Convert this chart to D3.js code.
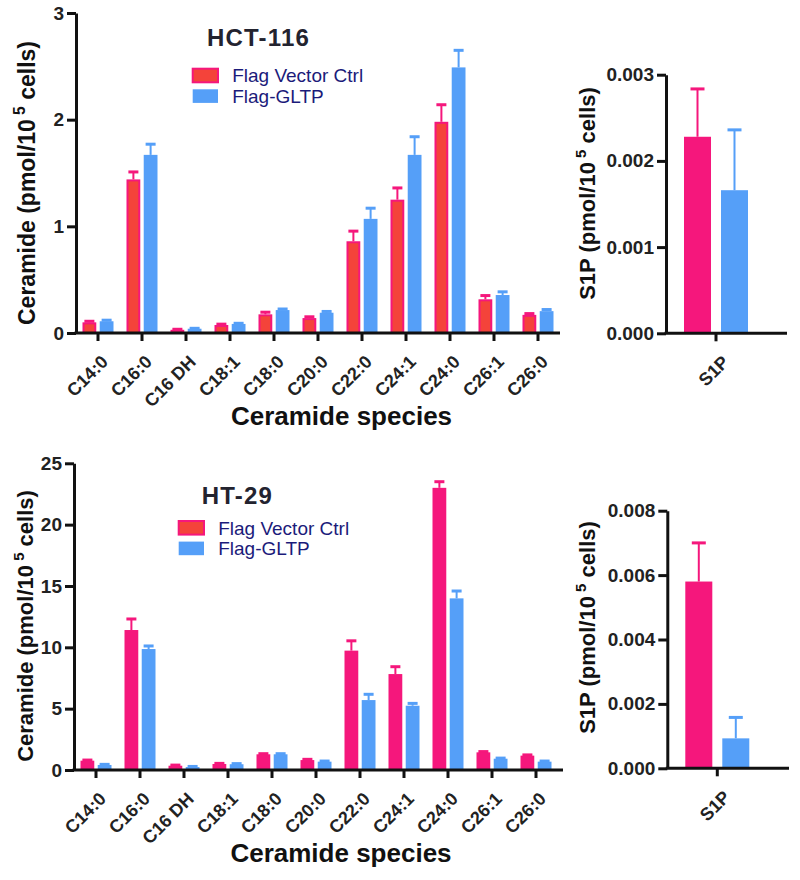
<!DOCTYPE html>
<html>
<head>
<meta charset="utf-8">
<script src="https://cdn.jsdelivr.net/npm/d3@7/dist/d3.min.js"></script>
<style>
  html, body { margin: 0; padding: 0; background: #fff; }
  svg { display: block; }
  text { font-family: "Liberation Sans", Arial, Helvetica, sans-serif; }
</style>
</head>
<body>
<svg id="chart" width="800" height="880"></svg>
<script>
// ---------------- DATA ----------------
const categories = ["C14:0", "C16:0", "C16 DH", "C18:1", "C18:0", "C20:0", "C22:0", "C24:1", "C24:0", "C26:1", "C26:0"];
const seriesNames = ["Flag Vector Ctrl", "Flag-GLTP"];

// HCT-116 ceramide (pmol/10^5 cells)
const hctCtrl    = [0.10, 1.44, 0.03, 0.075, 0.175, 0.14, 0.86, 1.25, 1.98, 0.316, 0.17];
const hctCtrlErr = [0.01, 0.07, 0.005, 0.008, 0.02, 0.012, 0.095, 0.11, 0.16, 0.035, 0.012];
const hctGltp    = [0.11, 1.67, 0.04, 0.085, 0.215, 0.19, 1.07, 1.67, 2.49, 0.356, 0.205];
const hctGltpErr = [0.01, 0.10, 0.004, 0.006, 0.01, 0.012, 0.10, 0.17, 0.16, 0.03, 0.015];

// HT-29 ceramide (pmol/10^5 cells)
const htCtrl    = [0.76, 11.41, 0.35, 0.49, 1.28, 0.81, 9.73, 7.82, 23.0, 1.44, 1.17];
const htCtrlErr = [0.05, 0.9, 0.05, 0.05, 0.05, 0.06, 0.8, 0.6, 0.5, 0.06, 0.06];
const htGltp    = [0.41, 9.86, 0.24, 0.47, 1.28, 0.68, 5.7, 5.24, 13.99, 0.92, 0.68];
const htGltpErr = [0.05, 0.25, 0.05, 0.05, 0.05, 0.05, 0.47, 0.19, 0.6, 0.05, 0.05];

// S1P (pmol/10^5 cells)
const s1pCategory = ["S1P"];
const hctS1P    = [0.00228, 0.00166];
const hctS1PErr = [0.000555, 0.0007];
const htS1P     = [0.0058, 0.00093];
const htS1PErr  = [0.0012, 0.00065];

// Tick values
const hctTicks    = [0, 1, 2, 3];
const htTicks     = [0, 5, 10, 15, 20, 25];
const hctS1PTicks = [0, 0.001, 0.002, 0.003];
const htS1PTicks  = [0, 0.002, 0.004, 0.006, 0.008];

// ---------------- STYLE ----------------
const MAGENTA = "#F5177C";
const RED = "#F4433A";
const BLUE = "#559FF8";
const AXIS = "#111";
const TICKTXT = "#222";
const LEGTXT = "#1b1b7a";

const svg = d3.select("#chart");

function yTitle(g, x, y, label, size) {
  const t = g.append("text")
    .attr("transform", `translate(${x},${y}) rotate(-90)`)
    .attr("text-anchor", "middle")
    .attr("font-weight", "bold")
    .attr("font-size", size)
    .attr("fill", "#111");
  t.append("tspan").text(label + " (pmol/10");
  t.append("tspan").attr("font-size", size * 0.68).attr("dy", -size * 0.42).text(" 5");
  t.append("tspan").attr("dy", size * 0.42).text(" cells)");
}

function drawPanel(cfg) {
  const g = svg.append("g");
  const x0 = d3.scaleBand().domain(cfg.cats).range(cfg.xRange).padding(0);
  const x1 = d3.scaleBand().domain(seriesNames).range([-cfg.half, cfg.half]).paddingInner(cfg.inner);
  const y = d3.scaleLinear().domain([0, cfg.yMax]).range(cfg.yRange);

  const rows = cfg.cats.map((c, i) => ({
    cat: c,
    vals: [
      { s: seriesNames[0], v: cfg.ctrl[i], e: cfg.ctrlErr[i] },
      { s: seriesNames[1], v: cfg.gltp[i], e: cfg.gltpErr[i] }
    ]
  }));

  const groups = g.selectAll("g.cat").data(rows).join("g")
    .attr("transform", d => `translate(${x0(d.cat) + x0.bandwidth() / 2},0)`);

  groups.selectAll("g.err").data(d => d.vals).join("g").each(function(d) {
    const el = d3.select(this);
    const cx = x1(d.s) + x1.bandwidth() / 2;
    const col = d.s === seriesNames[0] ? MAGENTA : BLUE;
    el.append("line").attr("x1", cx).attr("x2", cx)
      .attr("y1", y(d.v)).attr("y2", y(d.v + d.e))
      .attr("stroke", col).attr("stroke-width", 2);
    el.append("line").attr("x1", cx - cfg.cap / 2).attr("x2", cx + cfg.cap / 2)
      .attr("y1", y(d.v + d.e)).attr("y2", y(d.v + d.e))
      .attr("stroke", col).attr("stroke-width", 3);
  });

  const outl = d => d.s === seriesNames[0] && cfg.redOutline;
  groups.selectAll("rect.bar").data(d => d.vals).join("rect")
    .attr("class", "bar")
    .attr("x", d => x1(d.s) + (outl(d) ? 1 : 0))
    .attr("width", d => x1.bandwidth() - (outl(d) ? 2 : 0))
    .attr("y", d => y(d.v) + (outl(d) ? 1 : 0))
    .attr("height", d => Math.max(0, y(0) - y(d.v) - (outl(d) ? 1 : 0)))
    .attr("fill", d => d.s === seriesNames[0] ? (cfg.redOutline ? RED : MAGENTA) : BLUE)
    .attr("stroke", d => outl(d) ? MAGENTA : "none")
    .attr("stroke-width", 2);

  // y axis
  const yAx = g.append("g")
    .attr("transform", `translate(${cfg.xRange[0]},0)`)
    .call(d3.axisLeft(y).tickValues(cfg.ticks).tickFormat(cfg.fmt).tickSize(9).tickSizeOuter(0).tickPadding(3));
  yAx.select(".domain").attr("stroke", AXIS).attr("stroke-width", 3);
  yAx.selectAll(".tick line").attr("stroke", AXIS).attr("stroke-width", 3);
  yAx.selectAll(".tick text").attr("font-size", 19).attr("font-weight", "bold").attr("fill", TICKTXT)
    .attr("font-family", "'Liberation Sans', Arial, sans-serif");

  // x axis
  const xAx = g.append("g")
    .attr("transform", `translate(0,${cfg.yRange[0]})`)
    .call(d3.axisBottom(x0).tickSize(8).tickSizeOuter(0).tickFormat(""));
  xAx.select(".domain").remove();
  xAx.selectAll(".tick line").attr("stroke", AXIS).attr("stroke-width", 3);
  xAx.append("line").attr("x1", cfg.xRange[0] - 1.5).attr("x2", cfg.xEnd)
    .attr("y1", 0).attr("y2", 0).attr("stroke", AXIS).attr("stroke-width", 3);
  xAx.selectAll(".tick").append("text")
    .attr("transform", `translate(${cfg.lblDx},${cfg.lblDy}) rotate(-45)`)
    .attr("text-anchor", "end")
    .attr("font-size", 18).attr("font-weight", "bold").attr("fill", TICKTXT)
    .attr("font-family", "'Liberation Sans', Arial, sans-serif")
    .text(d => d);
  return g;
}

function legend(x, y, title, titleX, titleY) {
  const g = svg.append("g");
  g.append("text").attr("x", titleX).attr("y", titleY)
    .attr("font-size", 24).attr("font-weight", "bold").attr("fill", "#23232f")
    .attr("letter-spacing", 1.2).text(title);
  seriesNames.forEach((s, i) => {
    const yy = y + i * 20.6;
    g.append("rect").attr("x", x + 1).attr("y", yy + 1).attr("width", 25.3).attr("height", 13.6)
      .attr("fill", i === 0 ? RED : BLUE)
      .attr("stroke", i === 0 ? MAGENTA : "none").attr("stroke-width", 2);
    g.append("text").attr("x", x + 40.5).attr("y", yy + 14.5)
      .attr("font-size", 19).attr("fill", LEGTXT).text(s);
  });
}

// ---------- HCT-116 ----------
drawPanel({
  cats: categories, xRange: [76, 560], xEnd: 560, yRange: [333, 13], yMax: 3,
  ticks: hctTicks, fmt: d3.format("d"),
  ctrl: hctCtrl, ctrlErr: hctCtrlErr, gltp: hctGltp, gltpErr: hctGltpErr,
  half: 15.5, inner: 0.2, cap: 10, redOutline: true, lblDx: 11, lblDy: 30
});
yTitle(svg, 35, 183, "Ceramide", 23);
svg.append("text").attr("x", 341.5).attr("y", 425).attr("text-anchor", "middle")
  .attr("font-size", 26).attr("font-weight", "bold").attr("fill", "#111").text("Ceramide species");
legend(191.7, 67.7, "HCT-116", 207, 46);

drawPanel({
  cats: s1pCategory, xRange: [666, 766], xEnd: 787, yRange: [333.3, 74.7], yMax: 0.003,
  ticks: hctS1PTicks, fmt: d3.format(".3f"),
  ctrl: [hctS1P[0]], ctrlErr: [hctS1PErr[0]], gltp: [hctS1P[1]], gltpErr: [hctS1PErr[1]],
  half: 32, inner: 0.27, cap: 14, redOutline: false, lblDx: 14, lblDy: 30
});
yTitle(svg, 595, 193.5, "S1P ", 22);

// ---------- HT-29 ----------
drawPanel({
  cats: categories, xRange: [74, 558], xEnd: 563, yRange: [770, 463.3], yMax: 25,
  ticks: htTicks, fmt: d3.format("d"),
  ctrl: htCtrl, ctrlErr: htCtrlErr, gltp: htGltp, gltpErr: htGltpErr,
  half: 15.5, inner: 0.2, cap: 10, redOutline: false, lblDx: 11, lblDy: 30
});
yTitle(svg, 33, 626, "Ceramide", 22);
svg.append("text").attr("x", 341).attr("y", 862).attr("text-anchor", "middle")
  .attr("font-size", 26).attr("font-weight", "bold").attr("fill", "#111").text("Ceramide species");
legend(177.7, 520, "HT-29", 201.7, 504);

drawPanel({
  cats: s1pCategory, xRange: [667.3, 767.3], xEnd: 789, yRange: [768.3, 510.7], yMax: 0.008,
  ticks: htS1PTicks, fmt: d3.format(".3f"),
  ctrl: [htS1P[0]], ctrlErr: [htS1PErr[0]], gltp: [htS1P[1]], gltpErr: [htS1PErr[1]],
  half: 32, inner: 0.27, cap: 14, redOutline: false, lblDx: 14, lblDy: 30
});
yTitle(svg, 595, 627.5, "S1P ", 22);
</script>
</body>
</html>
